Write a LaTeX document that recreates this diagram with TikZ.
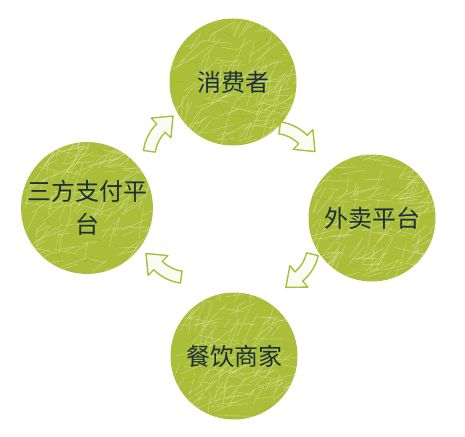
\documentclass[tikz,border=0pt]{standalone}
\usepackage{fontspec}
\newfontfamily\cjk{Noto Sans CJK SC}
\usetikzlibrary{calc}

\definecolor{ballgreen}{HTML}{ABBE3A}
\definecolor{inkblue}{HTML}{1B2E3A}

\tikzset{
  ball/.style={circle, minimum size=127pt, inner sep=0pt, fill=ballgreen,
    text=inkblue, align=center, font=\cjk\fontsize{24}{33}\selectfont,
    path picture={
      % scribbled strokes inside the ball
      \foreach \k in {1,...,190}{
        \pgfmathsetmacro\px{rand*64}
        \pgfmathsetmacro\py{rand*64}
        \pgfmathsetmacro\ang{-35+rand*50}
        \pgfmathsetmacro\len{8+rnd*24}
        \draw[white!90!yellow, opacity=.4, line width=.45pt]
          ($(path picture bounding box.center)+(\px,\py)$) -- ++(\ang:\len);
      }
      \foreach \k in {1,...,40}{
        \pgfmathsetmacro\px{rand*62}
        \pgfmathsetmacro\py{rand*62}
        \pgfmathsetmacro\ang{20+rand*60}
        \draw[ballgreen!75!black, opacity=.25, line width=.5pt]
          ($(path picture bounding box.center)+(\px,\py)$) -- ++(\ang:12);
      }
    }},
  bentarrow/.style={draw=ballgreen, fill=ballgreen!6, line width=1.4pt, line join=round}
}

% curved block arrow: centre of bend, tail angle, head angle
\newcommand{\bentArrow}[3]{%
  \draw[bentarrow, shift={#1}]
    (#2:47) arc[start angle=#2, end angle=#3, radius=47]
    -- (#3:55) -- ($(#3:41)+(#3+90:17)$) -- (#3:27) -- (#3:35)
    arc[start angle=#3, end angle=#2, radius=35] -- cycle;}

\begin{document}
\begin{tikzpicture}[x=1pt, y=-1pt]
  \pgfmathsetseed{7}
  \fill[white] (0,0) rectangle (465,436);
  \useasboundingbox (0,0) rectangle (465,436);

  % the four parties
  \node[ball] (consumer) at (233,82) {消费者};
  \node[ball] (platform) at (372,218) {外卖平台};
  \node[ball] (merchant) at (234,356) {餐饮商家};
  \node[ball] (payment)  at (87,208)  {三方支付平\\台};

  % arrows round the cycle
  \bentArrow{($(payment)!.5!(consumer)+(30,12)$)}{188}{225}
  \bentArrow{($(consumer)!.5!(platform)+(-28.5,18.5)$)}{278}{315}
  \bentArrow{($(platform)!.5!(merchant)+(-30.5,-42)$)}{13}{50}
  \bentArrow{($(merchant)!.5!(payment)+(26.5,-45.5)$)}{98}{135}
\end{tikzpicture}
\end{document}
